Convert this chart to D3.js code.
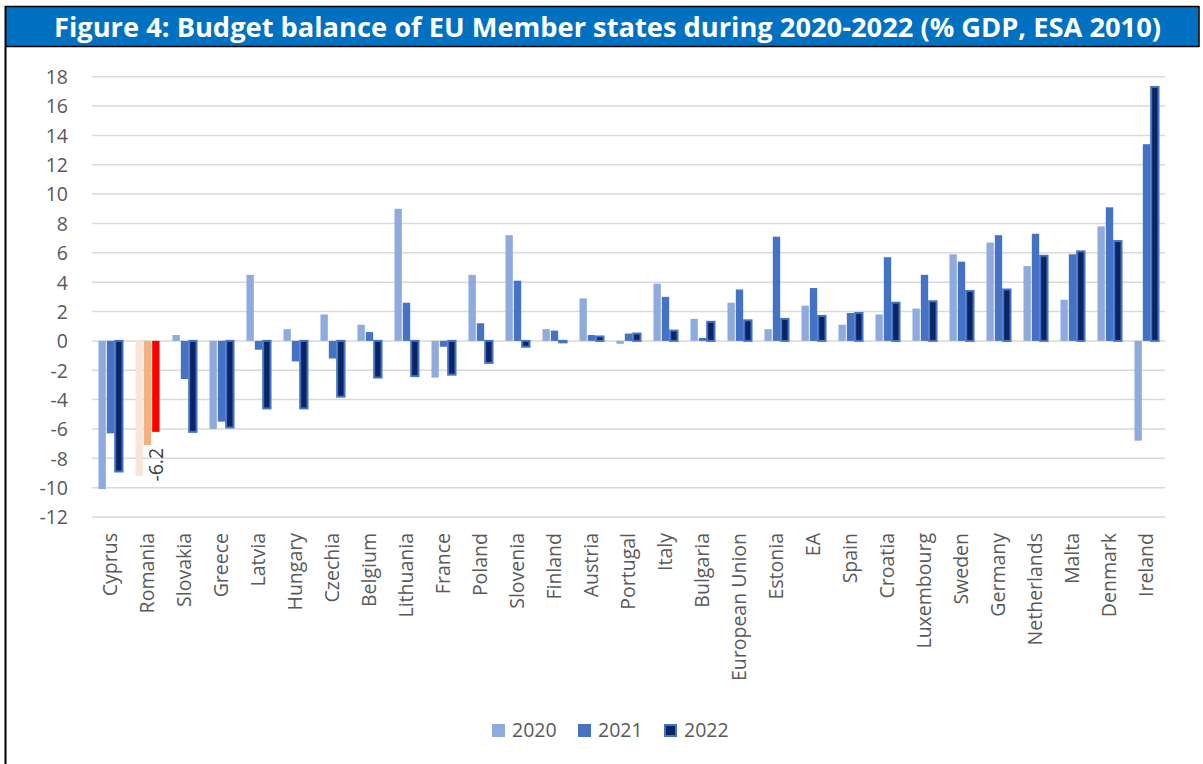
<!DOCTYPE html>
<html>
<head>
<meta charset="utf-8">
<script src="https://cdn.jsdelivr.net/npm/d3@7"></script>
<style>
  html, body { margin: 0; padding: 0; background: #fff; }
  svg { display: block; }
</style>
</head>
<body>
<svg id="chart" width="1203" height="764"></svg>
<script>
// Budget balance, % of GDP (ESA 2010), ordered by 2022 balance
const categories = ["Cyprus", "Romania", "Slovakia", "Greece", "Latvia", "Hungary", "Czechia",
  "Belgium", "Lithuania", "France", "Poland", "Slovenia", "Finland", "Austria", "Portugal",
  "Italy", "Bulgaria", "European Union", "Estonia", "EA", "Spain", "Croatia", "Luxembourg",
  "Sweden", "Germany", "Netherlands", "Malta", "Denmark", "Ireland"];

const years = ["2020", "2021", "2022"];

const values2020 = [-10.1, -9.2, 0.4, -6.0, 4.5, 0.8, 1.8, 1.1, 9.0, -2.5, 4.5, 7.2, 0.8, 2.9, -0.2,
  3.9, 1.5, 2.6, 0.8, 2.4, 1.1, 1.8, 2.2, 5.9, 6.7, 5.1, 2.8, 7.8, -6.8];
const values2021 = [-6.3, -7.1, -2.6, -5.5, -0.6, -1.4, -1.2, 0.6, 2.6, -0.4, 1.2, 4.1, 0.7, 0.4, 0.5,
  3.0, 0.2, 3.5, 7.1, 3.6, 1.9, 5.7, 4.5, 5.4, 7.2, 7.3, 5.9, 9.1, 13.4];
const values2022 = [-8.9, -6.2, -6.2, -5.9, -4.6, -4.6, -3.8, -2.5, -2.4, -2.3, -1.5, -0.4, -0.1, 0.3, 0.5,
  0.7, 1.3, 1.4, 1.5, 1.7, 1.9, 2.6, 2.7, 3.4, 3.5, 5.8, 6.1, 6.8, 17.3];

const yTicks = [-12, -10, -8, -6, -4, -2, 0, 2, 4, 6, 8, 10, 12, 14, 16, 18];

const highlighted = "Romania";
const labelledYear = "2022";

const seriesValues = { "2020": values2020, "2021": values2021, "2022": values2022 };
const seriesStyle = {
  "2020": { fill: "#8FAADC", stroke: "none", sw: 0 },
  "2021": { fill: "#4472C4", stroke: "none", sw: 0 },
  "2022": { fill: "#0B2463", stroke: "#4472C4", sw: 2 }
};
const highlightFill = { "2020": "#FBE5D6", "2021": "#F4B183", "2022": "#FF0000" };

const svg = d3.select("#chart");
const W = 1203, H = 764;

const font = "'Open Sans', 'DejaVu Sans', sans-serif";
const textGrey = "#595959";

// Frame and title band
svg.append("rect").attr("x", 0).attr("y", 0).attr("width", W).attr("height", H).attr("fill", "#fff");
svg.append("rect").attr("x", 5).attr("y", 7).attr("width", 1194).attr("height", 39).attr("fill", "#0070C0");
svg.append("line").attr("x1", 5).attr("x2", 1199).attr("y1", 6.5).attr("y2", 6.5)
  .attr("stroke", "#000").attr("stroke-width", 1.5);
svg.append("line").attr("x1", 5).attr("x2", 1199).attr("y1", 46.5).attr("y2", 46.5)
  .attr("stroke", "#000").attr("stroke-width", 1.5);
svg.append("line").attr("x1", 5.5).attr("x2", 5.5).attr("y1", 6).attr("y2", H)
  .attr("stroke", "#000").attr("stroke-width", 2);
svg.append("line").attr("x1", 1199).attr("x2", 1199).attr("y1", 6).attr("y2", 47)
  .attr("stroke", "#000").attr("stroke-width", 1.5);

svg.append("text")
  .attr("x", 54).attr("y", 37)
  .attr("textLength", 1107).attr("lengthAdjust", "spacingAndGlyphs")
  .attr("font-family", font).attr("font-weight", 700).attr("font-size", 26)
  .attr("fill", "#fff")
  .text("Figure 4: Budget balance of EU Member states during 2020-2022 (% GDP, ESA 2010)");

// Scales
const plot = { left: 92, right: 1165, top: 76.7, bottom: 517 };

const x0 = d3.scaleBand().domain(categories).range([plot.left, plot.right]).paddingInner(0.35).paddingOuter(0.175);
const x1 = d3.scaleBand().domain(years).range([0, x0.bandwidth()]).paddingInner(0.12);
const y = d3.scaleLinear().domain([-12, 18]).range([plot.bottom, plot.top]);

// Gridlines
svg.append("g").selectAll("line").data(yTicks).join("line")
  .attr("x1", plot.left).attr("x2", plot.right)
  .attr("y1", d => y(d)).attr("y2", d => y(d))
  .attr("stroke", "#D9D9D9").attr("stroke-width", 1.5);

// Y axis labels
const yAxis = d3.axisLeft(y).tickValues(yTicks).tickSize(0).tickPadding(0).tickFormat(d3.format("d"));
const gy = svg.append("g").attr("transform", `translate(${plot.left - 24},0)`).call(yAxis);
gy.select(".domain").remove();
gy.selectAll("text").attr("font-family", font).attr("font-size", 19.5).attr("fill", textGrey)
  .attr("dy", "0.35em");
gy.selectAll("text").each(function (d) { d3.select(this).text(d < 0 ? "-" + Math.abs(d) : d); });

// Bars
const rows = categories.map((c, i) => ({ cat: c, vals: years.map(yr => ({ year: yr, value: seriesValues[yr][i] })) }));

const groups = svg.append("g").selectAll("g").data(rows).join("g")
  .attr("transform", d => `translate(${x0(d.cat)},0)`);

groups.selectAll("rect").data(d => d.vals.map(v => ({ ...v, cat: d.cat }))).join("rect")
  .attr("x", d => x1(d.year))
  .attr("width", x1.bandwidth())
  .attr("y", d => y(Math.max(0, d.value)))
  .attr("height", d => Math.abs(y(d.value) - y(0)))
  .attr("fill", d => d.cat === highlighted ? highlightFill[d.year] : seriesStyle[d.year].fill)
  .attr("stroke", d => d.cat === highlighted ? "none" : seriesStyle[d.year].stroke)
  .attr("stroke-width", d => d.cat === highlighted ? 0 : seriesStyle[d.year].sw);

// Value label on the highlighted country's latest bar
const hi = categories.indexOf(highlighted);
const hv = seriesValues[labelledYear][hi];
const hx = x0(highlighted) + x1(labelledYear) + x1.bandwidth() / 2;
const hy = y(hv) + (hv < 0 ? 16 : -16);
svg.append("text")
  .attr("transform", `translate(${hx},${hy}) rotate(-90)`)
  .attr("text-anchor", hv < 0 ? "end" : "start")
  .attr("dy", "0.35em")
  .attr("font-family", font).attr("font-size", 19.5).attr("fill", "#404040")
  .text(hv.toFixed(1));

// Category labels
const xAxis = d3.axisBottom(x0).tickSize(0).tickPadding(0);
const gx = svg.append("g").attr("transform", `translate(0,533)`).call(xAxis);
gx.select(".domain").remove();
gx.selectAll("text")
  .attr("font-family", font).attr("font-size", 19.5).attr("fill", textGrey)
  .attr("transform", "rotate(-90)")
  .attr("text-anchor", "end")
  .attr("x", 0).attr("y", 0).attr("dy", "0.35em");

// Legend
const legendItems = [
  { year: "2020", x: 492 },
  { year: "2021", x: 578 },
  { year: "2022", x: 664 }
];
const lg = svg.append("g").selectAll("g").data(legendItems).join("g")
  .attr("transform", d => `translate(${d.x},724)`);
lg.append("rect")
  .attr("x", d => seriesStyle[d.year].sw / 2).attr("y", d => seriesStyle[d.year].sw / 2)
  .attr("width", d => 13 - seriesStyle[d.year].sw).attr("height", d => 13 - seriesStyle[d.year].sw)
  .attr("fill", d => seriesStyle[d.year].fill)
  .attr("stroke", d => seriesStyle[d.year].stroke)
  .attr("stroke-width", d => seriesStyle[d.year].sw);
lg.append("text")
  .attr("x", 20).attr("y", 6.5).attr("dy", "0.35em")
  .attr("font-family", font).attr("font-size", 19.5).attr("fill", textGrey)
  .text(d => d.year);
</script>
</body>
</html>
